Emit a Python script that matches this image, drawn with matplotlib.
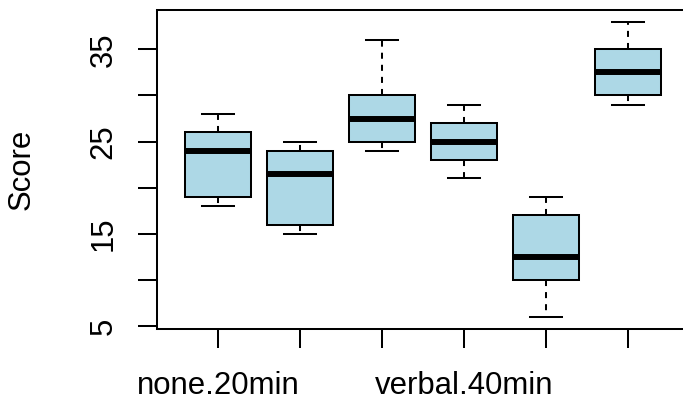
import matplotlib
matplotlib.use("Agg")
import matplotlib.pyplot as plt

# groups (R drops overlapping axis labels, only 1st and 4th are drawn)
groups = ["none.20min", "none.40min", "verbal.20min",
          "verbal.40min", "visual.20min", "visual.40min"]
shown = [True, False, False, True, False, False]

# five-number summaries
whis_lo = [18, 15, 24, 21, 6, 29]
q1 = [19, 16, 25, 23, 10, 30]
med = [24, 21.5, 27.5, 25, 12.5, 32.5]
q3 = [26, 24, 30, 27, 17, 35]
whis_hi = [28, 25, 36, 29, 19, 38]

plt.rcParams["font.family"] = ["Liberation Sans", "DejaVu Sans"]
plt.rcParams["font.size"] = 22.4

stats = []
for i, g in enumerate(groups):
    stats.append(dict(label=g, whislo=whis_lo[i], q1=q1[i], med=med[i],
                      q3=q3[i], whishi=whis_hi[i], fliers=[]))

fig = plt.figure(figsize=(6.83, 4.01), dpi=100)
ax = fig.add_axes([157.3/683, (401-328.6)/401, (688.7-157.3)/683, (328.6-9.9)/401])

lw = 1.45
pos = list(range(1, len(groups) + 1))
ax.bxp(stats, positions=pos, widths=0.8, capwidths=0.4, patch_artist=True,
       showfliers=False,
       boxprops=dict(facecolor="#ADD8E6", edgecolor="black", linewidth=lw),
       medianprops=dict(color="black", linewidth=4.3, solid_capstyle="butt"),
       whiskerprops=dict(color="black", linewidth=lw, linestyle=(0, (3, 3))),
       capprops=dict(color="black", linewidth=lw))

ax.set_xlim(0.26, 6.74)
ax.set_ylim(4.72, 39.28)

ax.set_xticks(pos)
ax.set_xticklabels([g if s else "" for g, s in zip(groups, shown)])
yt = [5, 10, 15, 20, 25, 30, 35]
ax.set_yticks(yt)
ax.set_yticklabels([str(v) if v % 10 == 5 else "" for v in yt],
                   rotation=90, va="center")

ax.tick_params(axis="both", length=13.7, width=lw, color="black")
ax.tick_params(axis="x", pad=17)
ax.tick_params(axis="y", pad=14)
for s in ax.spines.values():
    s.set_linewidth(lw)

ax.set_ylabel("Score", va="center")
ax.yaxis.set_label_coords((22 - 157.3) / 531.4, 0.5)

fig.savefig("out.png", dpi=100)
